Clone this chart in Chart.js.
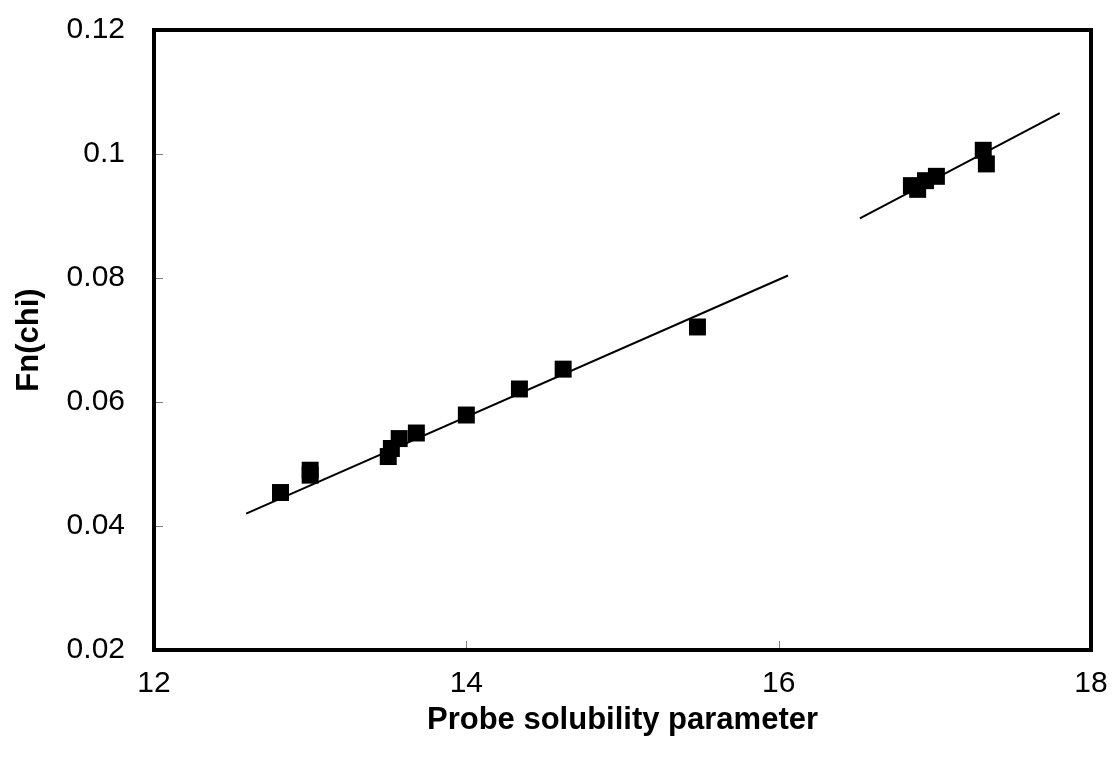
<!DOCTYPE html>
<html>
<head>
<meta charset="utf-8">
<script src="https://cdn.jsdelivr.net/npm/chart.js@4.4.1/dist/chart.umd.min.js"></script>
<style>
  html, body { margin: 0; padding: 0; background: #fff; }
  #wrap { width: 1115px; height: 769px; }
</style>
</head>
<body>
<div id="wrap"><canvas id="fnChart" width="1115" height="769"></canvas></div>
<script>
// measured points (probe solubility parameter vs Fn(chi))
const probeSol = [12.81, 13.0, 13.0, 13.50, 13.52, 13.57, 13.68, 14.0, 14.34, 14.62, 15.48,
                  16.85, 16.89, 16.94, 17.01, 17.31, 17.33];
const fnChi = [0.0454, 0.0490, 0.0482, 0.0512, 0.0525, 0.0541, 0.0550, 0.0579, 0.0621, 0.0653, 0.0721,
               0.0949, 0.0943, 0.0957, 0.0964, 0.1006, 0.0984];

// trend line end points
const fit1X = [12.59, 16.06];
const fit1Y = [0.0420, 0.0804];
const fit2X = [16.52, 17.80];
const fit2Y = [0.0896, 0.1066];

const xTicks = [12, 14, 16, 18];
const yTicks = [0.02, 0.04, 0.06, 0.08, 0.1, 0.12];

const pts = (xs, ys) => xs.map((x, i) => ({ x: x, y: ys[i] }));

// frame round the plot area plus small inward tick marks
const framePlugin = {
  id: 'frame',
  afterDraw(chart) {
    const { ctx, chartArea: a, scales } = chart;
    ctx.save();
    ctx.strokeStyle = '#808080';
    ctx.lineWidth = 1;
    ctx.beginPath();
    xTicks.slice(1, -1).forEach(v => {
      const px = Math.round(scales.x.getPixelForValue(v)) + 0.5;
      ctx.moveTo(px, a.bottom);
      ctx.lineTo(px, a.bottom - 9);
    });
    yTicks.slice(1, -1).forEach(v => {
      const py = Math.round(scales.y.getPixelForValue(v)) + 0.5;
      ctx.moveTo(a.left, py);
      ctx.lineTo(a.left + 9, py);
    });
    ctx.stroke();
    ctx.strokeStyle = '#000';
    ctx.lineWidth = 4;
    ctx.strokeRect(a.left, a.top, a.right - a.left, a.bottom - a.top);
    ctx.restore();
  }
};

const ctx = document.getElementById('fnChart').getContext('2d');
const fnChart = new Chart(ctx, {
  type: 'scatter',
  data: {
    datasets: [{
      label: 'data',
      data: pts(probeSol, fnChi),
      pointStyle: 'rect',
      pointRadius: 12,
      pointHoverRadius: 12,
      pointBorderWidth: 0,
      backgroundColor: '#000',
      borderColor: '#000',
      order: 0
    }, {
      label: 'fit1',
      data: pts(fit1X, fit1Y),
      showLine: true,
      pointRadius: 0,
      borderColor: '#000',
      borderWidth: 2,
      order: 1
    }, {
      label: 'fit2',
      data: pts(fit2X, fit2Y),
      showLine: true,
      pointRadius: 0,
      borderColor: '#000',
      borderWidth: 2,
      order: 1
    }]
  },
  options: {
    responsive: false,
    animation: false,
    layout: { padding: { top: 30, right: 24, left: 0, bottom: 0 } },
    plugins: { legend: { display: false }, tooltip: { enabled: false } },
    scales: {
      x: {
        type: 'linear',
        min: 12, max: 18,
        afterBuildTicks: s => { s.ticks = xTicks.map(v => ({ value: v })); },
        afterFit: s => { s.height = 119; s.paddingLeft = 0; s.paddingRight = 0; },
        grid: { display: false, drawTicks: false },
        border: { display: false },
        ticks: {
          color: '#000',
          padding: 16,
          maxRotation: 0,
          font: { family: 'Liberation Sans, Arial, sans-serif', size: 30 }
        },
        title: {
          display: true,
          text: 'Probe solubility parameter',
          color: '#000',
          padding: { top: 0, bottom: 30 },
          font: { family: 'Liberation Sans, Arial, sans-serif', size: 31, weight: 'bold' }
        }
      },
      y: {
        type: 'linear',
        min: 0.02, max: 0.12,
        afterBuildTicks: s => { s.ticks = yTicks.map(v => ({ value: v })); },
        afterFit: s => { s.width = 154; s.paddingTop = 0; s.paddingBottom = 0; },
        grid: { display: false, drawTicks: false },
        border: { display: false },
        ticks: {
          color: '#000',
          padding: 29,
          callback: v => String(+v.toFixed(2)),
          font: { family: 'Liberation Sans, Arial, sans-serif', size: 30 }
        },
        title: {
          display: true,
          text: 'Fn(chi)',
          color: '#000',
          padding: { top: 11, bottom: 0 },
          font: { family: 'Liberation Sans, Arial, sans-serif', size: 31, weight: 'bold' }
        }
      }
    }
  },
  plugins: [framePlugin]
});
</script>
</body>
</html>
